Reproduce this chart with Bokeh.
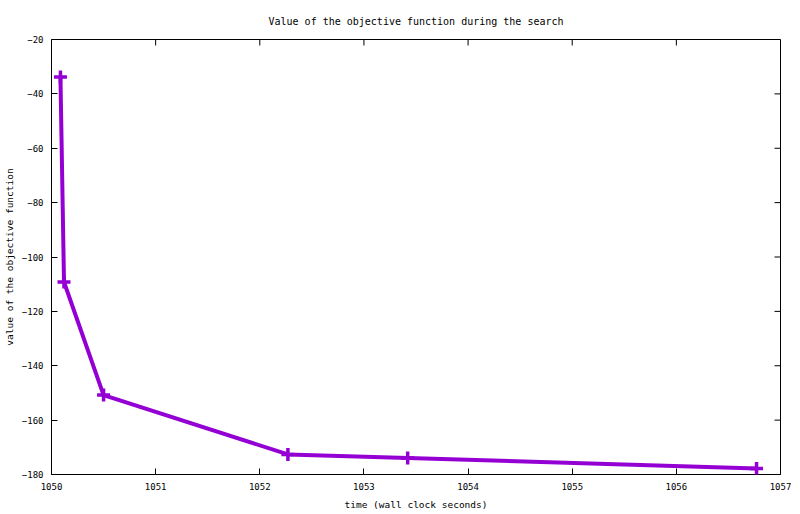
from bokeh.plotting import figure
from bokeh.models import FixedTicker, Range1d
from bokeh.embed import file_html
from bokeh.resources import INLINE

# data
time_s = [1050.086, 1050.12, 1050.5, 1052.27, 1053.42, 1056.77]
objective = [-33.8, -109.2, -150.8, -172.6, -173.9, -177.8]
x_ticks = [1050, 1051, 1052, 1053, 1054, 1055, 1056, 1057]
y_ticks = [-180, -160, -140, -120, -100, -80, -60, -40, -20]

FONT = "DejaVu Sans Mono"
COLOR = "#9400D3"
XMIN, XMAX = 1050, 1057
YMIN, YMAX = -180, -20
FW, FH = 729, 435
TICK = 6

p = figure(frame_width=FW, frame_height=FH, output_backend="svg", toolbar_location=None,
           x_range=Range1d(XMIN, XMAX), y_range=Range1d(YMIN, YMAX),
           title="Value of the objective function during the search",
           min_border_left=44, min_border_top=39, min_border_right=11, min_border_bottom=36)

p.title.align = "center"
p.title.vertical_align = "top"
p.title.text_font = FONT
p.title.text_font_size = "10px"
p.title.text_font_style = "normal"
p.title.text_color = "black"
p.title.offset = 0
p.title.standoff = 22

p.xgrid.visible = False
p.ygrid.visible = False
p.outline_line_color = "black"
p.outline_line_width = 1
p.background_fill_color = "white"
p.border_fill_color = "white"

for ax in (p.xaxis[0], p.yaxis[0]):
    ax.major_label_text_font = FONT
    ax.major_label_text_font_size = "9px"
    ax.major_label_text_color = "black"
    ax.axis_label_text_font = FONT
    ax.axis_label_text_font_size = "9.5px"
    ax.axis_label_text_font_style = "normal"
    ax.axis_label_text_color = "black"
    ax.major_tick_in = TICK
    ax.major_tick_out = 0
    ax.minor_tick_line_color = None
    ax.axis_line_color = None
    ax.major_tick_line_color = "black"

p.xaxis[0].ticker = FixedTicker(ticks=x_ticks)
p.yaxis[0].ticker = FixedTicker(ticks=y_ticks)
p.xaxis[0].axis_label = "time (wall clock seconds)"
p.yaxis[0].axis_label = "value of the objective function"
p.xaxis[0].major_label_standoff = 8
p.yaxis[0].major_label_standoff = 8
p.xaxis[0].axis_label_standoff = 6
p.yaxis[0].axis_label_standoff = 4

# mirrored ticks on top and right (gnuplot style)
dy = (YMAX - YMIN) * TICK / FH
dx = (XMAX - XMIN) * TICK / FW
p.segment(x0=x_ticks, x1=x_ticks, y0=[YMAX] * len(x_ticks), y1=[YMAX - dy] * len(x_ticks),
          line_color="black", line_width=1)
p.segment(x0=[XMAX] * len(y_ticks), x1=[XMAX - dx] * len(y_ticks), y0=y_ticks, y1=y_ticks,
          line_color="black", line_width=1)

p.line(time_s, objective, line_color=COLOR, line_width=4)
p.scatter(time_s, objective, marker="cross", size=13, line_width=3.5, line_color=COLOR)

open("out.html", "w").write(file_html(p, INLINE))
